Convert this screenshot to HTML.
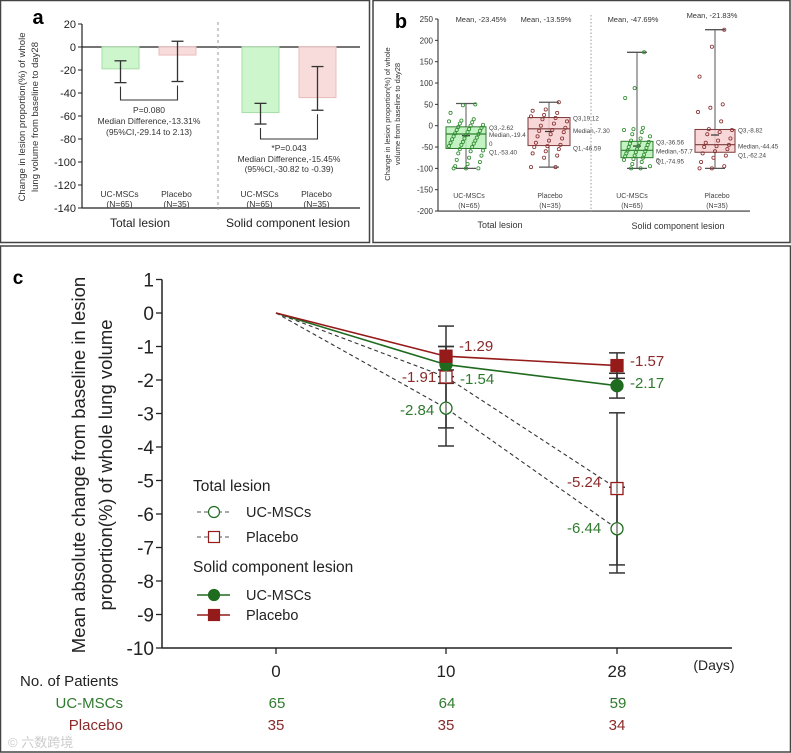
<!DOCTYPE html>
<html><head><meta charset="utf-8"><style>
html,body{margin:0;padding:0;background:#fff;}
svg{display:block;font-family:"Liberation Sans","Noto Sans CJK SC",sans-serif;}
</style></head><body>
<svg id="fig" width="791" height="753" viewBox="0 0 791 753" xmlns="http://www.w3.org/2000/svg">
<rect x="0" y="0" width="791" height="753" fill="#fff"/>
<rect x="0.5" y="0.5" width="369" height="242" fill="none" stroke="#444" stroke-width="1.5"/>
<rect x="373" y="0.5" width="417" height="242" fill="none" stroke="#444" stroke-width="1.5"/>
<rect x="0.5" y="246" width="790" height="506" fill="none" stroke="#444" stroke-width="1.5"/>
<g id="pa"></g>
<g id="pb"></g>
<g id="pc"></g>
</svg>
<script>
// ---------- Panel a data ----------
const aTicks = [20,0,-20,-40,-60,-80,-100,-120,-140];
const aBarVals = [-19,-7,-57,-44];
const aErrHi = [-12,5,-49,-17];
const aErrLo = [-31,-30,-67,-55];
const aGroups = ["UC-MSCs","Placebo","UC-MSCs","Placebo"];
const aNs = ["(N=65)","(N=35)","(N=65)","(N=35)"];
// ---------- Panel b data ----------
const bTicks = [250,200,150,100,50,0,-50,-100,-150,-200];
const bMeans = ["Mean, -23.45%","Mean, -13.59%","Mean, -47.69%","Mean, -21.83%"];
const bQ3 = [-2.62,19.12,-36.56,-8.82];
const bMed = [-19.4,-7.30,-57.7,-44.45];
const bQ1 = [-53.40,-46.59,-74.95,-62.24];
const bMax = [52,55,172,225];
const bMin = [-100,-97,-100,-100];
const bMeanVal = [-23.45,-13.59,-47.69,-21.83];
const bLabels = [["Q3,-2.62","Median,-19.4","0","Q1,-53.40"],["Q3,19.12","Median,-7.30","Q1,-46.59"],["Q3,-36.56","Median,-57.7","0","Q1,-74.95"],["Q3,-8.82","Median,-44.45","Q1,-62.24"]];
const bPts0 = [50,48,30,15,12,10,8,5,2,0,-3,-5,-8,-10,-12,-15,-18,-20,-22,-25,-28,-30,-32,-35,-38,-40,-42,-45,-48,-50,-55,-58,-60,-65,-70,-75,-80,-85,-90,-95,-100,-100,-100];
const bPts1 = [55,38,35,30,25,22,18,15,10,5,0,-5,-10,-12,-15,-20,-25,-30,-35,-40,-45,-48,-50,-55,-60,-65,-70,-75,-97,-97];
const bPts2 = [172,88,65,-5,-8,-10,-15,-20,-25,-30,-35,-38,-40,-42,-45,-48,-50,-52,-55,-58,-60,-62,-65,-68,-70,-72,-75,-78,-80,-85,-90,-95,-100,-100];
const bPts3 = [225,185,115,50,42,32,10,-8,-10,-15,-20,-30,-35,-40,-45,-48,-50,-55,-60,-65,-70,-75,-85,-95,-100,-100];
// ---------- Panel c data ----------
const cDays = ["0","10","28"];
const cTicks = [1,0,-1,-2,-3,-4,-5,-6,-7,-8,-9,-10];
const ucTotal = [0,-2.84,-6.44];
const plTotal = [0,-1.91,-5.24];
const ucSolid = [0,-1.54,-2.17];
const plSolid = [0,-1.29,-1.57];
const ucTotalHi=[0,-1.7,-5.2], ucTotalLo=[0,-3.97,-7.76];
const plTotalHi=[0,-1.0,-2.98], plTotalLo=[0,-3.43,-7.52];
const ucSolidHi=[0,-1.0,-1.8], ucSolidLo=[0,-2.1,-2.54];
const plSolidHi=[0,-0.39,-1.19], plSolidLo=[0,-1.9,-1.95];
const nUC = ["65","64","59"];
const nPl = ["35","35","34"];

const NS="http://www.w3.org/2000/svg";
function mk(parent,tag,attrs,text){const e=document.createElementNS(NS,tag);for(const k in attrs)e.setAttribute(k,attrs[k]);if(text!==undefined)e.textContent=text;parent.appendChild(e);return e;}
const GREEN="#1f6b1f", RED="#951a1a", TG="#2f7a2f", TR="#8a2a2a";

// ================= PANEL A =================
(function(){
const g=document.getElementById('pa');
const ay=v=>47-v*1.15;
const ax0=82, axEnd=360;
const bx=[102,159,242,299], bw=37;
let t=mk(g,'text',{x:38,y:24,'font-size':20,'font-weight':'bold','text-anchor':'middle'},'a');

let l=mk(g,'line',{x1:ax0,y1:ay(20),x2:ax0,y2:ay(-140),stroke:'#222','stroke-width':1.2});

aTicks.forEach(v=>{mk(g,'line',{x1:ax0-4,y1:ay(v),x2:ax0,y2:ay(v),stroke:'#222'});
 const tx=mk(g,'text',{x:ax0-6,y:ay(v)+4,'font-size':11,'text-anchor':'end',fill:'#222'},v);
 });
mk(g,'line',{x1:ax0,y1:ay(-140),x2:axEnd,y2:ay(-140),stroke:'#222','stroke-width':1.2});
mk(g,'line',{x1:ax0,y1:ay(0),x2:axEnd,y2:ay(0),stroke:'#222','stroke-width':1.2});
mk(g,'line',{x1:218,y1:22,x2:218,y2:210,stroke:'#999','stroke-dasharray':'3,3'});
aBarVals.forEach((v,i)=>{const uc=i%2===0;
 const r=mk(g,'rect',{x:bx[i],y:ay(0),width:bw,height:ay(v)-ay(0),fill:uc?'#cdf6cd':'#f8dcdc',stroke:uc?'#a6dea6':'#ebbcbc'});
 
 const cx=bx[i]+bw/2;
 mk(g,'line',{x1:cx,y1:ay(aErrHi[i]),x2:cx,y2:ay(aErrLo[i]),stroke:'#333','stroke-width':1.3});
 [aErrHi[i],aErrLo[i]].forEach(e=>mk(g,'line',{x1:cx-6,y1:ay(e),x2:cx+6,y2:ay(e),stroke:'#333','stroke-width':1.3}));
 mk(g,'text',{x:cx-1,y:197,'font-size':8.5,'text-anchor':'middle',fill:'#333'},aGroups[i]);
 mk(g,'text',{x:cx-1,y:207,'font-size':8.5,'text-anchor':'middle',fill:'#333'},aNs[i]);
});
function bracket(i,j,yb){const x1=bx[i]+bw/2,x2=bx[j]+bw/2;
 mk(g,'path',{d:`M${x1} ${ay(aErrLo[i])+4}V${yb}H${x2}V${ay(aErrLo[j])+4}`,fill:'none',stroke:'#333','stroke-width':1.1});}
bracket(0,1,100);bracket(2,3,139);
[["P=0.080",113],["Median Difference,-13.31%",124],["(95%CI,-29.14 to 2.13)",135]].forEach(a=>mk(g,'text',{x:149,y:a[1],'font-size':8.5,'text-anchor':'middle',fill:'#333'},a[0]));
[["*P=0.043",151],["Median Difference,-15.45%",162],["(95%CI,-30.82 to -0.39)",172]].forEach(a=>mk(g,'text',{x:289,y:a[1],'font-size':8.5,'text-anchor':'middle',fill:'#333'},a[0]));
mk(g,'text',{x:140,y:227,'font-size':12,'text-anchor':'middle',fill:'#222'},'Total lesion');
mk(g,'text',{x:288,y:227,'font-size':12,'text-anchor':'middle',fill:'#222'},'Solid component lesion');
const yl=mk(g,'text',{transform:'translate(25,117) rotate(-90)','font-size':9.5,'text-anchor':'middle',fill:'#333'});
mk(yl,'tspan',{x:0,y:0},'Change in lesion proportion(%) of whole');
mk(yl,'tspan',{x:0,y:13},'lung volume from baseline to day28');

})();

// ================= PANEL B =================
(function(){
const g=document.getElementById('pb');
const by=v=>125.7-v*0.4267;
const ax0=438, axEnd=750;
const bx=[446,528,621,695], bw=[40,42,32,40];
const pts=[bPts0,bPts1,bPts2,bPts3];
let t=mk(g,'text',{x:401,y:28,'font-size':20,'font-weight':'bold','text-anchor':'middle'},'b');

mk(g,'line',{x1:ax0,y1:by(250),x2:ax0,y2:by(-200),stroke:'#333','stroke-width':1.1});
mk(g,'line',{x1:ax0,y1:by(-200),x2:axEnd,y2:by(-200),stroke:'#333','stroke-width':1.1});
bTicks.forEach(v=>{mk(g,'line',{x1:ax0-3,y1:by(v),x2:ax0,y2:by(v),stroke:'#333'});
 const tx=mk(g,'text',{x:ax0-5,y:by(v)+3,'font-size':8,'text-anchor':'end',fill:'#333'},v);
 });
mk(g,'line',{x1:591,y1:15,x2:591,y2:212,stroke:'#999','stroke-dasharray':'1.5,2'});
const meanX=[481,546,633,712];
const grpX=[469,550,632,717];
const grpN=["(N=65)","(N=35)","(N=65)","(N=35)"];
bQ3.forEach((q,i)=>{const uc=i%2===0, cx=bx[i]+bw[i]/2;
 mk(g,'text',{x:meanX[i],y:i===3?18:22,'font-size':7.5,'text-anchor':'middle',fill:'#333'},bMeans[i]);
 mk(g,'text',{x:grpX[i],y:198,'font-size':7,'text-anchor':'middle',fill:'#444'},uc?'UC-MSCs':'Placebo');
 mk(g,'text',{x:grpX[i],y:208,'font-size':7,'text-anchor':'middle',fill:'#444'},grpN[i]);
 mk(g,'line',{x1:cx,y1:by(bMax[i]),x2:cx,y2:by(bMin[i]),stroke:'#555','stroke-width':1});
 [bMax[i],bMin[i]].forEach(e=>mk(g,'line',{x1:cx-10,y1:by(e),x2:cx+10,y2:by(e),stroke:'#555','stroke-width':1.3}));
 const r=mk(g,'rect',{x:bx[i],y:by(q),width:bw[i],height:by(bQ1[i])-by(q),fill:uc?'#b9f0b9':'#f6d0d0','fill-opacity':0.85,stroke:uc?'#2e7d2e':'#7a3a3a','stroke-width':1});
 
 mk(g,'line',{x1:bx[i],y1:by(bMed[i]),x2:bx[i]+bw[i],y2:by(bMed[i]),stroke:uc?'#2e7d2e':'#7a3a3a','stroke-width':1.2});
 mk(g,'line',{x1:cx-4,y1:by(bMeanVal[i]),x2:cx+4,y2:by(bMeanVal[i]),stroke:'#333','stroke-width':1.2});
 pts[i].forEach((v,k)=>{const jit=(((k*61+17)%23)/22-0.5)*(bw[i]-6);
  const c=mk(g,'circle',{cx:cx+jit,cy:by(v),r:1.6,fill:'none',stroke:uc?'#2e8b2e':'#8a3030','stroke-width':0.8});
  });
 const lx=bx[i]+bw[i]+3;
 const ys=bLabels[i].length===4?[by(q)+3,by(bMed[i])+3,by(bMed[i])+12,by(bQ1[i])+6]:[by(q)+3,by(bMed[i])+3,by(bQ1[i])+3];
 bLabels[i].forEach((s,k)=>mk(g,'text',{x:lx,y:ys[k]+(bLabels[i].length===3?k*1:0),'font-size':6.3,fill:'#444'},s));
});
mk(g,'text',{x:500,y:228,'font-size':9,'text-anchor':'middle',fill:'#333'},'Total lesion');
mk(g,'text',{x:678,y:229,'font-size':9,'text-anchor':'middle',fill:'#333'},'Solid component lesion');
const yl=mk(g,'text',{transform:'translate(390,114) rotate(-90)','font-size':7.5,'text-anchor':'middle',fill:'#333'});
mk(yl,'tspan',{x:0,y:0},'Change in lesion proportion(%) of whole');
mk(yl,'tspan',{x:0,y:10},'volume from baseline to day28');

})();

// ================= PANEL C =================
(function(){
const g=document.getElementById('pc');
const cy=v=>313-v*33.5;
const dayX=[276,446,617];
const cx=i=>dayX[i];
const ax0=162, axEnd=732;
let t=mk(g,'text',{x:18,y:284,'font-size':19,'font-weight':'bold','text-anchor':'middle'},'c');

mk(g,'line',{x1:ax0,y1:cy(1),x2:ax0,y2:cy(-10),stroke:'#222','stroke-width':1.5});
mk(g,'line',{x1:ax0,y1:cy(-10),x2:axEnd,y2:cy(-10),stroke:'#222','stroke-width':1.5});
cTicks.forEach(v=>{mk(g,'line',{x1:ax0-6,y1:cy(v),x2:ax0,y2:cy(v),stroke:'#222','stroke-width':1.3});
 const tx=mk(g,'text',{x:ax0-8,y:cy(v)+7,'font-size':19,'text-anchor':'end',fill:'#222'},v);
 });
cDays.forEach((d,i)=>{mk(g,'line',{x1:cx(i),y1:cy(-10),x2:cx(i),y2:cy(-10)+6,stroke:'#222','stroke-width':1.3});
 const tx=mk(g,'text',{x:cx(i),y:677,'font-size':17,'text-anchor':'middle',fill:'#222'},d);
 
 mk(g,'text',{x:cx(i)+1,y:708,'font-size':15,'text-anchor':'middle',fill:TG},nUC[i]);
 mk(g,'text',{x:cx(i),y:730,'font-size':15,'text-anchor':'middle',fill:TR},nPl[i]);
});
mk(g,'text',{x:714,y:670,'font-size':14,'text-anchor':'middle',fill:'#222'},'(Days)');
mk(g,'text',{x:20,y:686,'font-size':15,fill:'#222'},'No. of Patients');
mk(g,'text',{x:123,y:708,'font-size':15,'text-anchor':'end',fill:TG},'UC-MSCs');
mk(g,'text',{x:123,y:730,'font-size':15,'text-anchor':'end',fill:TR},'Placebo');
mk(g,'text',{x:8,y:747,'font-size':13,fill:'#ccc'},'© 六数跨境');
const yl=mk(g,'text',{transform:'translate(85,465) rotate(-90)','font-size':18.5,'text-anchor':'middle',fill:'#222'});
mk(yl,'tspan',{x:0,y:0},'Mean absolute change from baseline in lesion');
mk(yl,'tspan',{x:0,y:27},'proportion(%) of whole lung volume');


const series=[
 {name:'uc-total',v:ucTotal,hi:ucTotalHi,lo:ucTotalLo,col:GREEN,dash:true,m:'circle',fill:false},
 {name:'placebo-total',v:plTotal,hi:plTotalHi,lo:plTotalLo,col:RED,dash:true,m:'square',fill:false},
 {name:'uc-solid',v:ucSolid,hi:ucSolidHi,lo:ucSolidLo,col:GREEN,dash:false,m:'circle',fill:true},
 {name:'placebo-solid',v:plSolid,hi:plSolidHi,lo:plSolidLo,col:RED,dash:false,m:'square',fill:true}];
series.forEach(s=>{for(let i=1;i<3;i++){
 mk(g,'line',{x1:cx(i),y1:cy(s.hi[i]),x2:cx(i),y2:cy(s.lo[i]),stroke:'#333','stroke-width':1.5});
 [s.hi[i],s.lo[i]].forEach(e=>mk(g,'line',{x1:cx(i)-8,y1:cy(e),x2:cx(i)+8,y2:cy(e),stroke:'#333','stroke-width':1.5}));}});
series.forEach(s=>{
 const p=mk(g,'polyline',{points:s.v.map((v,i)=>cx(i)+','+cy(v)).join(' '),fill:'none',stroke:s.dash?'#333':s.col,'stroke-width':s.dash?1.1:1.6,'stroke-dasharray':s.dash?'4,3':'none'});
 
 s.v.forEach((v,i)=>{if(i===0)return;
  let m;
  if(s.m==='circle')m=mk(g,'circle',{cx:cx(i),cy:cy(v),r:6,fill:s.fill?s.col:'#fff',stroke:s.col,'stroke-width':1.3});
  else m=mk(g,'rect',{x:cx(i)-6,y:cy(v)-6,width:12,height:12,fill:s.fill?s.col:'#fff',stroke:s.col,'stroke-width':1.3});
  
  if(!s.fill)mk(g,'line',{x1:cx(i),y1:cy(v)-5,x2:cx(i),y2:cy(v)+5,stroke:'#333','stroke-width':1});
 });
});
const lab=[[459,351,'-1.29',TR],[402,382,'-1.91',TR],[460,384,'-1.54',TG],[400,415,'-2.84',TG],[630,366,'-1.57',TR],[630,388,'-2.17',TG],[567,487,'-5.24',TR],[567,533,'-6.44',TG]];
lab.forEach(a=>{const tx=mk(g,'text',{x:a[0],y:a[1],'font-size':15,fill:a[3]},a[2]);
 });
const lg=mk(g,'g',{});

mk(lg,'text',{x:193,y:491,'font-size':15.5,fill:'#222'},'Total lesion');
mk(lg,'text',{x:193,y:572,'font-size':15.5,fill:'#222'},'Solid component lesion');
const items=[[512,'UC-MSCs',GREEN,true,'circle',false],[537,'Placebo',RED,true,'square',false],[595,'UC-MSCs',GREEN,false,'circle',true],[615,'Placebo',RED,false,'square',true]];
items.forEach(it=>{const y=it[0];
 mk(lg,'line',{x1:197,y1:y,x2:230,y2:y,stroke:it[3]?'#555':it[2],'stroke-width':it[3]?1.1:1.6,'stroke-dasharray':it[3]?'4,3':'none'});
 if(it[4]==='circle')mk(lg,'circle',{cx:214,cy:y,r:5.5,fill:it[5]?it[2]:'#fff',stroke:it[2],'stroke-width':1.2});
 else mk(lg,'rect',{x:208.5,y:y-5.5,width:11,height:11,fill:it[5]?it[2]:'#fff',stroke:it[2],'stroke-width':1.2});
 mk(lg,'text',{x:246,y:y+5,'font-size':14.5,fill:'#222'},it[1]);
});
})();
</script>
</body></html>
